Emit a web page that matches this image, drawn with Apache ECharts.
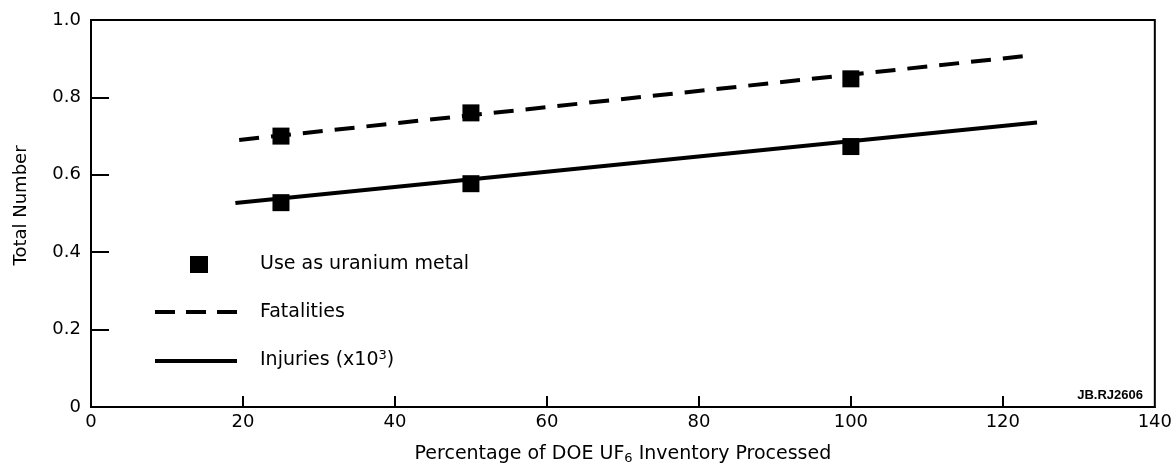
<!DOCTYPE html>
<html>
<head>
<meta charset="utf-8">
<script src="https://cdn.jsdelivr.net/npm/echarts@6/dist/echarts.min.js"></script>
<style>
  html, body { margin: 0; padding: 0; background: #fff; }
  #chart { width: 1175px; height: 470px; }
</style>
</head>
<body>
<div id="chart"></div>
<script>
// Measured cases: percentage of inventory processed vs. total number
const caseX = [25, 50, 100];
const fatalityPoints = [0.70, 0.76, 0.848];
const injuryPoints = [0.528, 0.577, 0.673];

// Fitted trend lines (end points)
const fatalityLineX = [19.5, 123.5];
const fatalityLineY = [0.69, 0.908];
const injuryLineX = [19, 124.5];
const injuryLineY = [0.527, 0.735];

const xTicks = [0, 20, 40, 60, 80, 100, 120, 140];
const yTicks = [0, 0.2, 0.4, 0.6, 0.8, 1.0];

const seriesNames = ['Use as uranium metal', 'Fatalities', 'Injuries'];

const pairs = (xs, ys) => xs.map((x, i) => [x, ys[i]]);
const FONT = '"Liberation Sans", Arial, sans-serif';
const WIDE = '"DejaVu Sans", Verdana, sans-serif';

const chart = echarts.init(document.getElementById('chart'), null, { renderer: 'canvas' });

chart.setOption({
  backgroundColor: '#ffffff',
  animation: false,
  grid: {
    left: 91, right: 19, top: 20, bottom: 62,
    show: true, borderColor: '#000', borderWidth: 2
  },
  xAxis: {
    type: 'value', min: 0, max: 140, interval: 20,
    name: 'Percentage of DOE UF{sub|6} Inventory Processed',
    nameLocation: 'middle', nameGap: 36,
    nameTextStyle: {
      color: '#000', fontFamily: WIDE, fontSize: 19,
      rich: { sub: { fontSize: 13, verticalAlign: 'bottom', padding: [9, 0, 0, 0], fontFamily: WIDE, color: '#000' } }
    },
    axisLine: { show: true, lineStyle: { color: '#000', width: 2 } },
    axisTick: { show: true, inside: true, length: 11, lineStyle: { color: '#000', width: 2 },
      customValues: xTicks.slice(1, -1) },
    splitLine: { show: false },
    axisLabel: { color: '#000', fontFamily: WIDE, fontSize: 18, margin: 6,
      customValues: xTicks, formatter: v => String(v) }
  },
  yAxis: {
    type: 'value', min: 0, max: 1, interval: 0.2,
    name: 'Total Number',
    nameLocation: 'middle', nameGap: 61, nameRotate: 90,
    nameTextStyle: { color: '#000', fontFamily: WIDE, fontSize: 18, padding: [0, 0, 0, 16] },
    axisLine: { show: true, lineStyle: { color: '#000', width: 2 } },
    axisTick: { show: true, inside: true, length: 18, lineStyle: { color: '#000', width: 2 },
      customValues: yTicks.slice(1, -1) },
    splitLine: { show: false },
    axisLabel: { color: '#000', fontFamily: WIDE, fontSize: 18, margin: 10,
      customValues: yTicks, formatter: v => (v === 0 ? '0' : v.toFixed(1)) }
  },
  series: [
    {
      name: seriesNames[1], type: 'line',
      data: pairs(fatalityLineX, fatalityLineY),
      symbol: 'none', silent: true,
      lineStyle: { color: '#000', width: 4, type: [20, 12] }
    },
    {
      name: seriesNames[2], type: 'line',
      data: pairs(injuryLineX, injuryLineY),
      symbol: 'none', silent: true,
      lineStyle: { color: '#000', width: 4, type: 'solid' }
    },
    {
      name: seriesNames[0], type: 'scatter', z: 5,
      data: pairs(caseX, fatalityPoints).concat(pairs(caseX, injuryPoints)),
      symbol: 'rect', symbolSize: 17,
      itemStyle: { color: '#000', opacity: 1 }
    }
  ],
  graphic: [
    // key
    { type: 'rect', shape: { x: 190, y: 256, width: 18, height: 17 }, style: { fill: '#000' } },
    { type: 'text', x: 260, y: 264, style: { text: seriesNames[0], fill: '#000', font: '19px ' + WIDE, textVerticalAlign: 'middle' } },
    { type: 'line', shape: { x1: 155, y1: 312, x2: 237, y2: 312 }, style: { stroke: '#000', lineWidth: 4, lineDash: [20, 11] } },
    { type: 'text', x: 260, y: 312, style: { text: seriesNames[1], fill: '#000', font: '19px ' + WIDE, textVerticalAlign: 'middle' } },
    { type: 'line', shape: { x1: 155, y1: 361, x2: 237, y2: 361 }, style: { stroke: '#000', lineWidth: 4 } },
    { type: 'text', x: 260, y: 360, style: {
        text: seriesNames[2] + ' (x10{sup|3})', fill: '#000', font: '19px ' + WIDE, textVerticalAlign: 'middle',
        rich: { sup: { fontSize: 13, verticalAlign: 'top', padding: [0, 0, 9, 0], fontFamily: WIDE, fill: '#000' } }
    } },
    // drawing number
    { type: 'text', right: 32, top: 389, style: { text: 'JB.RJ2606', fill: '#000', font: 'bold 13px ' + FONT } }
  ]
});
</script>
</body>
</html>
